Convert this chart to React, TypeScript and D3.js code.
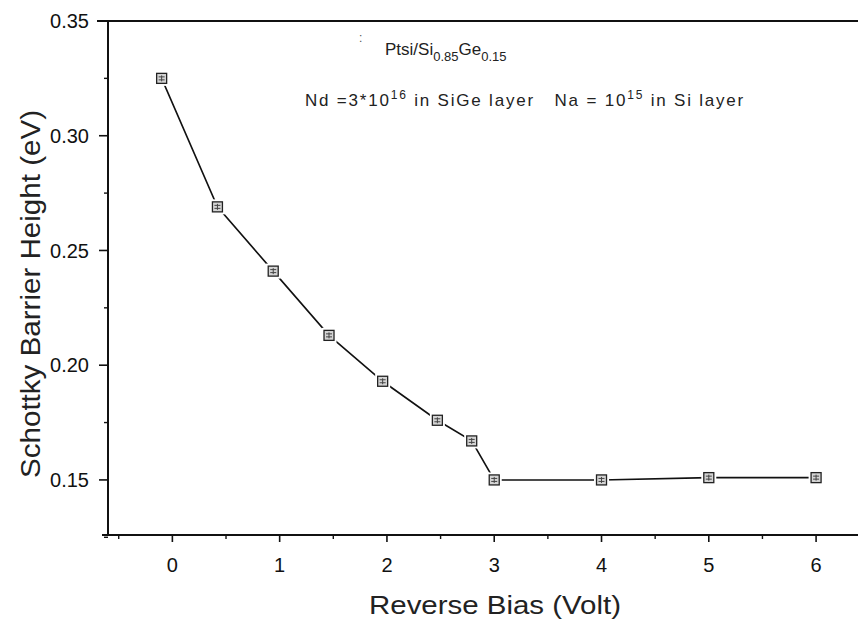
import React from "react";
import * as d3 from "d3";

const biasVolt = [-0.1, 0.42, 0.94, 1.46, 1.96, 2.47, 2.79, 3.0, 4.0, 5.0, 6.0];
const barrierEv = [0.325, 0.269, 0.241, 0.213, 0.193, 0.176, 0.167, 0.15, 0.15, 0.151, 0.151];
const xTicks = [0, 1, 2, 3, 4, 5, 6];
const xMinorTicks = [-0.5, 0.5, 1.5, 2.5, 3.5, 4.5, 5.5];
const yTicks = [0.15, 0.2, 0.25, 0.3, 0.35];
const yMinorTicks = [0.125, 0.175, 0.225, 0.275, 0.325];

const W = 858;
const H = 619;
const FONT = "'Liberation Sans', Arial, Helvetica, sans-serif";

export default function App() {
  const x = d3.scaleLinear().domain([-0.6, 6.4]).range([108, 859]);
  const y = d3.scaleLinear().domain([0.126, 0.35]).range([535, 21]);
  const data = biasVolt.map((v, i) => ({ v, e: barrierEv[i] }));
  const line = d3
    .line<{ v: number; e: number }>()
    .x((d) => x(d.v))
    .y((d) => y(d.e));

  const x0 = x.range()[0];
  const yBottom = y.range()[0];
  const yTop = y.range()[1];

  return (
    <svg
      width={W}
      height={H}
      viewBox={`0 0 ${W} ${H}`}
      style={{ position: "absolute", left: 0, top: 0, background: "#fff" }}
      fontFamily={FONT}
    >
      <rect x={0} y={0} width={W} height={H} fill="#fff" />
      {/* frame: left, top, bottom */}
      <line x1={x0} y1={yTop} x2={x0} y2={yBottom} stroke="#111" strokeWidth={2} />
      <line x1={97} y1={yTop} x2={W} y2={yTop} stroke="#111" strokeWidth={2} />
      <line x1={x0 - 6} y1={yBottom} x2={W} y2={yBottom} stroke="#111" strokeWidth={2} />

      {/* y ticks */}
      {yTicks.map((t) => (
        <g key={"yt" + t}>
          <line x1={x0 - 9} x2={x0} y1={y(t)} y2={y(t)} stroke="#111" strokeWidth={1.6} />
          <text x={89} y={y(t)} dy="0.36em" textAnchor="end" fontSize={20} fill="#111">
            {t.toFixed(2)}
          </text>
        </g>
      ))}
      {yMinorTicks.map((t) => (
        <line key={"ym" + t} x1={x0 - 4} x2={x0} y1={y(t)} y2={y(t)} stroke="#111" strokeWidth={1.4} />
      ))}

      {/* x ticks */}
      {xTicks.map((t) => (
        <g key={"xt" + t}>
          <line x1={x(t)} x2={x(t)} y1={yBottom} y2={yBottom + 7} stroke="#111" strokeWidth={1.6} />
          <text x={x(t)} y={yBottom + 37} textAnchor="middle" fontSize={20} fill="#111">
            {t}
          </text>
        </g>
      ))}
      {xMinorTicks.map((t) => (
        <line key={"xm" + t} x1={x(t)} x2={x(t)} y1={yBottom} y2={yBottom + 4} stroke="#111" strokeWidth={1.4} />
      ))}

      {/* axis titles */}
      <text
        x={495}
        y={614}
        textAnchor="middle"
        fontSize={26}
        fill="#222"
        textLength={252}
        lengthAdjust="spacingAndGlyphs"
      >
        Reverse Bias (Volt)
      </text>
      <text
        transform={`translate(40, 294) rotate(-90)`}
        textAnchor="middle"
        fontSize={27}
        fill="#222"
        textLength={368}
        lengthAdjust="spacingAndGlyphs"
      >
        Schottky Barrier Height (eV)
      </text>

      {/* annotations */}
      <text x={359} y={42} fontSize={12} fill="#555">:</text>
      <text x={385} y={55} fontSize={17} fill="#222">
        Ptsi/Si
        <tspan fontSize={13} dy={6}>0.85</tspan>
        <tspan fontSize={17} dy={-6}>Ge</tspan>
        <tspan fontSize={13} dy={6}>0.15</tspan>
      </text>
      <text x={305} y={106} fontSize={17} fill="#222" letterSpacing={1.8} style={{ whiteSpace: "pre" }}>
        Nd =3*10
        <tspan fontSize={12} dy={-7}>16</tspan>
        <tspan dy={7}> in SiGe layer   Na = 10</tspan>
        <tspan fontSize={12} dy={-7}>15</tspan>
        <tspan dy={7}> in Si layer</tspan>
      </text>

      {/* data line */}
      <path d={line(data) ?? ""} fill="none" stroke="#111" strokeWidth={1.6} />
      {data.map((d, i) => (
        <g key={"m" + i}>
          <rect x={x(d.v) - 7.5} y={y(d.e) - 7.5} width={15} height={15} fill="#fff" />
          <rect
            x={x(d.v) - 5}
            y={y(d.e) - 5}
            width={10}
            height={10}
            fill="#d4d4d4"
            stroke="#222"
            strokeWidth={1.3}
          />
          <path
            d={`M${x(d.v) - 3},${y(d.e) - 1.5}h6M${x(d.v) - 3},${y(d.e) + 1.5}h6M${x(d.v)},${y(d.e) - 3}v6`}
            stroke="#444"
            strokeWidth={1}
          />
        </g>
      ))}
    </svg>
  );
}
